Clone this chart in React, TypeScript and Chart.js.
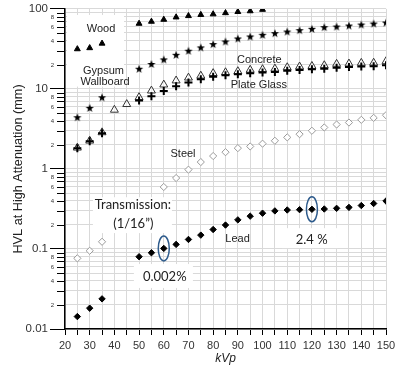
import React, { useEffect, useRef } from 'react';
import { Chart, registerables } from 'chart.js';

Chart.register(...registerables);

const kVp = [25, 30, 35, 40, 45, 50, 55, 60, 65, 70, 75, 80, 85, 90, 95, 100, 105, 110, 115, 120, 125, 130, 135, 140, 145, 150];

const wood = [31.5, 32.5, 37, null, null, 65.6, 69.5, 73.6, 78.7, 81.8, 84.5, 86, 89, 92, 94, 98, null, null, null, null, null, null, null, null, null, null];
const gypsum = [4.43, 5.8, 7.86, null, null, 17.9, 20.5, 23.4, 26.7, 30, 33, 36.3, 39.2, 42.7, 45.2, 47.5, 49.8, 52.1, 54.2, 56.4, 59.1, 60.2, 62, 63.8, 65.6, 67.6];
const concrete = [1.84, 2.25, 2.86, 5.47, 6.44, 7.86, 9.5, 11.3, 12.7, 13.8, 14.6, 15.7, 16.1, 16.6, 17.3, 17.6, 17.9, 18.6, 19, 19.3, 19.7, 20.5, 20.7, 21.1, 21.2, 22.1];
const plateGlass = [1.82, 2.22, 2.8, null, null, 7.15, 8.1, 9.45, 10.8, 12, 13.2, 14.2, 14.8, 15.2, 15.7, 16, 16.3, 16.9, 17.3, 17.6, 17.9, 18.4, 18.8, 19.1, 19.2, 19.8];
const steel = [0.0764, 0.095, 0.123, null, null, null, null, 0.595, 0.77, 0.98, 1.22, 1.45, 1.62, 1.82, 1.91, 2.07, 2.25, 2.48, 2.72, 3.0, 3.3, 3.59, 3.8, 4.11, 4.35, 4.69];
const lead = [0.0143, 0.0182, 0.0238, null, null, 0.08, 0.0897, 0.1016, 0.114, 0.1315, 0.149, 0.175, 0.199, 0.231, 0.257, 0.28, 0.299, 0.307, 0.31, 0.313, 0.316, 0.322, 0.331, 0.349, 0.37, 0.398];

const decades = [0.01, 0.1, 1, 10, 100];
const decadeLabels = ['0.01', '0.1', '1', '10', '100'];
const minorLabelMultipliers = [2, 4, 6, 8];

// annotation texts anchored in data coordinates [kVp, value]
const labels: { text: string; x: number; y: number; kind: string }[] = [
  { text: 'Wood', x: 34.6, y: 56, kind: 'std' },
  { text: 'Gypsum', x: 35.6, y: 16.6, kind: 'std' },
  { text: 'Wallboard', x: 36.2, y: 12.1, kind: 'std' },
  { text: 'Concrete', x: 98.7, y: 23.2, kind: 'std' },
  { text: 'Plate Glass', x: 98.5, y: 11.3, kind: 'std' },
  { text: 'Steel', x: 67.8, y: 1.52, kind: 'std' },
  { text: 'Lead', x: 89.9, y: 0.132, kind: 'std' },
  { text: 'Transmission:', x: 47.5, y: 0.352, kind: 'big' },
  { text: '(1/16\u201D)', x: 47.65, y: 0.208, kind: 'big' },
  { text: '0.002%', x: 60.4, y: 0.0451, kind: 'big' },
  { text: '2.4 %', x: 119.9, y: 0.132, kind: 'big' },
];

// white boxes [x1, x2, yTop, yBottom] in data coordinates
const boxes = [
  [20.8, 43.9, 84, 10.7],
  [31.3, 63.3, 0.443, 0.158],
  [47.9, 71.8, 0.0648, 0.0326],
  [107.9, 130.5, 0.182, 0.1026],
];

// highlighted lead points (kVp)
const highlighted = [60, 120];

function toPoints(values: (number | null)[]) {
  const pts: { x: number; y: number }[] = [];
  values.forEach((v, i) => {
    if (v !== null) pts.push({ x: kVp[i], y: v });
  });
  return pts;
}

function makeStar(): HTMLCanvasElement {
  const c = document.createElement('canvas');
  c.width = 10;
  c.height = 10;
  const ctx = c.getContext('2d')!;
  ctx.fillStyle = '#000';
  ctx.beginPath();
  const cx = 5, cy = 5.4, R = 4.3, r = 1.8;
  for (let i = 0; i < 10; i++) {
    const ang = -Math.PI / 2 + (i * Math.PI) / 5;
    const rad = i % 2 === 0 ? R : r;
    const px = cx + rad * Math.cos(ang);
    const py = cy + rad * Math.sin(ang);
    if (i === 0) ctx.moveTo(px, py);
    else ctx.lineTo(px, py);
  }
  ctx.closePath();
  ctx.fill();
  return c;
}

const isDecade = (v: number) => decades.some((d) => Math.abs(v / d - 1) < 1e-6);

const annotPlugin = {
  id: 'annot',
  beforeDatasetsDraw(chart: any) {
    const { ctx, scales } = chart;
    const xs = scales.x, ys = scales.y;
    ctx.save();
    ctx.fillStyle = '#ffffff';
    boxes.forEach(([x1, x2, y1, y2]) => {
      const px1 = xs.getPixelForValue(x1);
      const px2 = xs.getPixelForValue(x2);
      const py1 = ys.getPixelForValue(y1);
      const py2 = ys.getPixelForValue(y2);
      ctx.fillRect(px1, py1, px2 - px1, py2 - py1);
    });
    ctx.restore();
  },
  afterDatasetsDraw(chart: any) {
    const { ctx, scales, chartArea } = chart;
    const xs = scales.x, ys = scales.y;
    ctx.save();
    // minor y ticks and labels
    ctx.strokeStyle = '#000';
    ctx.lineWidth = 1;
    ctx.fillStyle = '#333';
    ctx.font = "6px 'Liberation Sans', Arial, sans-serif";
    ctx.textAlign = 'center';
    ctx.textBaseline = 'middle';
    decades.slice(0, 4).forEach((d) => {
      for (let m = 2; m <= 9; m++) {
        const v = m * d;
        const py = Math.round(ys.getPixelForValue(v)) + 0.5;
        ctx.beginPath();
        ctx.moveTo(chartArea.left - 8, py);
        ctx.lineTo(chartArea.left, py);
        ctx.stroke();
        if (minorLabelMultipliers.includes(m)) {
          ctx.fillText(String(m), chartArea.left - 12.5, py);
        }
      }
    });
    // texts
    labels.forEach((l) => {
      if (l.kind === 'big') {
        ctx.font = "13px Lato, 'Open Sans', sans-serif";
        ctx.fillStyle = '#222';
      } else {
        ctx.font = "11px 'Liberation Sans', Arial, sans-serif";
        ctx.fillStyle = '#222';
      }
      ctx.fillText(l.text, xs.getPixelForValue(l.x), ys.getPixelForValue(l.y));
    });
    // ellipses
    ctx.strokeStyle = '#2e5b8c';
    ctx.lineWidth = 1.5;
    highlighted.forEach((k) => {
      const i = kVp.indexOf(k);
      const v = lead[i];
      if (v === null) return;
      const px = xs.getPixelForValue(k);
      const py = ys.getPixelForValue(v);
      ctx.beginPath();
      ctx.ellipse(px, py, 5.5, 12.5, 0, 0, Math.PI * 2);
      ctx.stroke();
    });
    ctx.restore();
  },
};

export default function App() {
  const ref = useRef<HTMLCanvasElement | null>(null);
  useEffect(() => {
    if (!ref.current) return;
    Chart.defaults.font.family = "'Liberation Sans', Arial, sans-serif";
    const star = makeStar();
    const chart = new Chart(ref.current, {
      type: 'scatter',
      data: {
        datasets: [
          { label: 'Wood', data: toPoints(wood), pointStyle: 'triangle', pointRadius: 3.4, backgroundColor: '#000', borderColor: '#000', borderWidth: 1 },
          { label: 'Gypsum Wallboard', data: toPoints(gypsum), pointStyle: star, pointRadius: 4, backgroundColor: '#000', borderColor: '#000' },
          { label: 'Plate Glass', data: toPoints(plateGlass), pointStyle: 'cross', pointRadius: 4, backgroundColor: '#000', borderColor: '#000', borderWidth: 2 },
          { label: 'Concrete', data: toPoints(concrete), pointStyle: 'triangle', pointRadius: 4.6, backgroundColor: 'rgba(255,255,255,0.5)', borderColor: '#333', borderWidth: 1 },
          { label: 'Steel', data: toPoints(steel), pointStyle: 'rectRot', pointRadius: 3.6, backgroundColor: '#fff', borderColor: '#9a9a9a', borderWidth: 1 },
          { label: 'Lead', data: toPoints(lead), pointStyle: 'rectRot', pointRadius: 3.2, backgroundColor: '#000', borderColor: '#000', borderWidth: 1 },
        ] as any,
      },
      options: {
        animation: false,
        responsive: true,
        maintainAspectRatio: false,
        layout: { padding: { left: 0, right: 14, top: 8, bottom: 0 } },
        plugins: { legend: { display: false }, tooltip: { enabled: false } },
        scales: {
          x: {
            type: 'linear',
            min: 20,
            max: 150,
            afterFit: (s: any) => { s.height = 42; },
            ticks: {
              stepSize: 5,
              autoSkip: false,
              maxRotation: 0,
              padding: 4,
              color: '#333',
              font: { size: 11 },
              callback: (v: any) => (Number(v) % 10 === 0 ? String(v) : ''),
            },
            grid: { color: '#d9d9d9', lineWidth: 1, tickLength: 6, tickColor: '#000', drawTicks: true },
            border: { display: true, color: '#000', width: 1.5 },
            title: { display: true, text: 'kVp', color: '#222', font: { size: 12, style: 'italic' }, padding: { top: 0, bottom: 5 } },
          },
          y: {
            type: 'logarithmic',
            min: 0.01,
            max: 100,
            afterFit: (s: any) => { s.width = 65; },
            afterBuildTicks: (s: any) => {
              const t: any[] = [];
              decades.slice(0, 4).forEach((d) => {
                for (let m = 1; m <= 9; m++) {
                  const v = Number((m * d).toPrecision(3));
                  t.push({ value: v, major: m === 1 });
                }
              });
              t.push({ value: 100, major: true });
              s.ticks = t;
            },
            ticks: {
              autoSkip: false,
              padding: 2,
              color: '#333',
              font: { size: 11.5 },
              callback: (v: any) => {
                const i = decades.findIndex((d) => Math.abs(Number(v) / d - 1) < 1e-6);
                return i >= 0 ? decadeLabels[i] : '';
              },
            },
            grid: {
              color: '#d9d9d9',
              lineWidth: 1,
              tickLength: 15,
              tickColor: (c: any) => (c.tick && isDecade(c.tick.value) ? '#000' : 'rgba(0,0,0,0)'),
            },
            border: { display: true, color: '#000', width: 1.5 },
            title: { display: true, text: 'HVL at High Attenuation (mm)', color: '#222', font: { size: 12.7 }, padding: { top: 11, bottom: 0 } },
          },
        },
      } as any,
      plugins: [annotPlugin],
    });
    return () => chart.destroy();
  }, []);
  return (
    <div style={{ position: 'absolute', left: 0, top: 0, width: 400, height: 371, background: '#fff' }}>
      <canvas ref={ref} />
    </div>
  );
}
